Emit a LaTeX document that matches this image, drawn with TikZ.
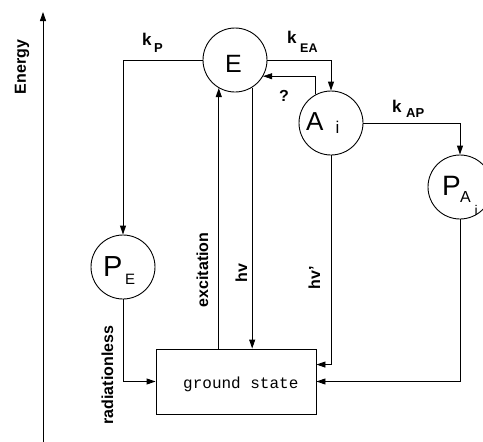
\documentclass[tikz,border=0pt]{standalone}
\usepackage{fontspec}
\setmainfont{Liberation Sans}
\newfontfamily\gsfont{Liberation Mono}
\usetikzlibrary{arrows.meta,calc}
\newcommand{\fs}[1]{\fontsize{#1}{#1}\selectfont}
\begin{document}
\begin{tikzpicture}[x=1pt,y=-1pt,
  st/.style={circle,draw,line width=0.9pt,minimum size=64pt,inner sep=0pt},
  conn/.style={line width=0.9pt,-{Triangle[length=9pt,width=6pt]}},
  txt/.style={inner sep=0pt,anchor=base west},
  vlab/.style={inner sep=0pt,anchor=base,rotate=90,font=\bfseries\fs{16}},
]
\useasboundingbox (0,0) rectangle (483,442);
% states
\node[st] (E) at (235,60) {};
\node[st] (Ai) at (331,123) {};
\node[st] (PE) at (123,267) {};
\node[st] (PAi) at (460,187) {};
\node[draw,line width=0.9pt,minimum width=160pt,minimum height=65pt,inner sep=0pt] (GS) at (236,381.5) {};
% state labels
\node[txt,font=\fs{25}] (tE) at (225,72) {E};
\node[txt,font=\fs{26}] (tA) at (306,130) {A};
\node[txt,font=\fs{17}] (tAi) at (335.5,133) {i};
\node[txt,font=\fs{29}] (tP) at (103,276) {P};
\node[txt,font=\fs{15}] (tPE) at (125,284) {E};
\node[txt,font=\fs{28}] (tPA) at (442,195) {P};
\node[txt,font=\fs{16}] (tPAa) at (460,202) {A};
\node[txt,font=\fs{14}] (tPAi) at (474.5,215) {i};
\node[txt,font=\gsfont\fs{16}] (tGS) at (183,388) {ground state};
% rate labels
\node[txt,font=\bfseries\fs{17}] (kP) at (142,45) {k};
\node[txt,font=\bfseries\fs{13}] (kPs) at (154,52) {P};
\node[txt,font=\bfseries\fs{17}] (kEA) at (287,43) {k};
\node[txt,font=\bfseries\fs{12.5}] (kEAs) at (300,52) {EA};
\node[txt,font=\bfseries\fs{17}] (kAP) at (392,112) {k};
\node[txt,font=\bfseries\fs{13}] (kAPs) at (406,117) {AP};
\node[inner sep=0pt,font=\bfseries\fs{16}] (q) at (284,96) {?};
% vertical labels
\node[vlab] (lEn) at (26,67) {Energy};
\node[vlab] (lEx) at (208,270) {excitation};
\node[vlab] (lhv) at (247,273) {hv};
\node[vlab] (lhv2) at (320,277.5) {hv’};
\node[vlab] (lRad) at (113,375) {radiationless};
% energy axis
\coordinate (ax0) at (43,442);
\coordinate (ax1) at (43,12);
\draw[conn] (ax0) -- (ax1);
% connectors
\draw[conn] (E.west) -| (PE.north);
\draw[conn] (E.east) -| (Ai.north);
\draw[conn,line width=0.6pt] (Ai.118) |- (E.-30);
\draw[conn] (Ai.east) -| (PAi.north);
\draw[conn] (GS.north -| E.240) -- (E.240);
\draw[conn] (E.302) -- (E.302 |- GS.north);
\draw[conn] (Ai.south) |- ([yshift=-16pt]GS.north east);
\draw[conn] (PAi.south) |- (GS.east);
\draw[conn] (PE.south) |- (GS.west);
\end{tikzpicture}
\end{document}
